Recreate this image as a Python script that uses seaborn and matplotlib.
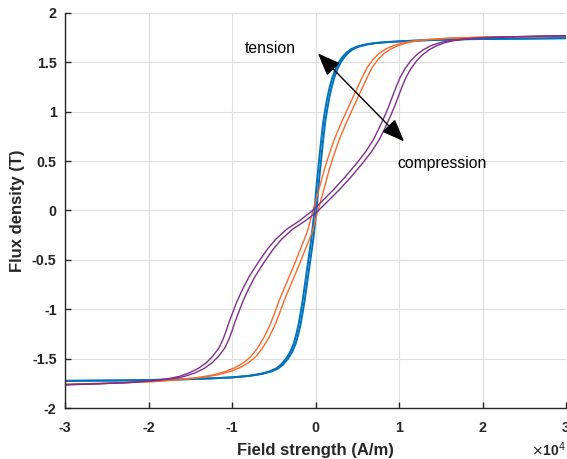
import numpy as np
import pandas as pd
import matplotlib
matplotlib.use("Agg")
import matplotlib.pyplot as plt
import seaborn as sns

# Each loop: flux density levels (T), loop centre line H (x 10^4 A/m) and half-width of the loop
blue_B = [-1.725, -1.72, -1.71, -1.70, -1.69, -1.675, -1.655, -1.63, -1.60, -1.56, -1.50, -1.43, -1.35, -1.26,
          -1.15, -1.03, -0.90, -0.75, -0.60, -0.45, -0.30, -0.15, 0.00, 0.15, 0.30, 0.45, 0.60, 0.75, 0.90,
          1.03, 1.15, 1.26, 1.35, 1.43, 1.50, 1.56, 1.60, 1.635, 1.66, 1.68, 1.695, 1.705, 1.715, 1.725,
          1.735, 1.745]
blue_H = [-3.0, -2.2, -1.6, -1.25, -1.0, -0.80, -0.65, -0.54, -0.46, -0.40, -0.34, -0.29, -0.25, -0.22,
          -0.19, -0.165, -0.14, -0.115, -0.09, -0.065, -0.04, -0.02, 0.0, 0.014, 0.03, 0.048, 0.066, 0.085, 0.105,
          0.13, 0.155, 0.185, 0.215, 0.25, 0.29, 0.34, 0.385, 0.44, 0.51, 0.60, 0.71, 0.85, 1.05, 1.35,
          1.8, 3.0]
blue_gap = [0, 0.002, 0.004, 0.006, 0.008, 0.010, 0.012, 0.012, 0.012, 0.012, 0.012, 0.012, 0.012, 0.012,
            0.012, 0.012, 0.012, 0.012, 0.012, 0.012, 0.012, 0.012, 0.012, 0.012, 0.012, 0.012, 0.012, 0.012, 0.012,
            0.012, 0.012, 0.012, 0.012, 0.012, 0.012, 0.012, 0.012, 0.012, 0.012, 0.012, 0.010, 0.008, 0.006, 0.004,
            0.002, 0]

orange_B = [-1.76, -1.745, -1.73, -1.71, -1.69, -1.665, -1.63, -1.59, -1.54, -1.48, -1.40, -1.29, -1.17, -1.04,
            -0.90, -0.73, -0.56, -0.39, -0.22, -0.11, 0.00, 0.12, 0.24, 0.40, 0.56, 0.72, 0.88, 1.02, 1.14,
            1.25, 1.35, 1.45, 1.53, 1.59, 1.635, 1.67, 1.695, 1.715, 1.73, 1.745, 1.755, 1.765]
orange_H = [-3.0, -2.3, -1.9, -1.60, -1.38, -1.20, -1.05, -0.93, -0.83, -0.745, -0.67, -0.59, -0.52, -0.46,
            -0.40, -0.315, -0.23, -0.15, -0.07, -0.035, 0.0, 0.04, 0.08, 0.13, 0.19, 0.255, 0.335, 0.41, 0.475,
            0.535, 0.59, 0.65, 0.72, 0.79, 0.87, 0.96, 1.06, 1.18, 1.33, 1.6, 2.0, 3.0]
orange_gap = [0, 0.005, 0.010, 0.015, 0.020, 0.025, 0.03, 0.03, 0.03, 0.03, 0.03, 0.03, 0.03, 0.03,
              0.03, 0.03, 0.03, 0.03, 0.03, 0.03, 0.03, 0.03, 0.03, 0.03, 0.03, 0.03, 0.03, 0.03, 0.03,
              0.03, 0.03, 0.03, 0.03, 0.03, 0.03, 0.03, 0.025, 0.020, 0.015, 0.010, 0.005, 0]

purple_B = [-1.765, -1.755, -1.74, -1.72, -1.70, -1.68, -1.645, -1.60, -1.54, -1.47, -1.39, -1.30, -1.22, -1.13,
            -1.03, -0.93, -0.80, -0.67, -0.53, -0.39, -0.29, -0.19, -0.10, 0.00, 0.10, 0.21, 0.34, 0.48,
            0.60, 0.72, 0.84, 0.95, 1.05, 1.15, 1.25, 1.35, 1.44, 1.52, 1.58, 1.63, 1.67, 1.70, 1.72,
            1.735, 1.75, 1.76, 1.77]
purple_H = [-3.0, -2.6, -2.2, -1.9, -1.72, -1.60, -1.48, -1.37, -1.27, -1.19, -1.12, -1.07, -1.035, -1.00,
            -0.955, -0.91, -0.84, -0.76, -0.655, -0.54, -0.44, -0.31, -0.15, 0.0, 0.12, 0.25, 0.39, 0.53,
            0.64, 0.73, 0.80, 0.86, 0.91, 0.955, 1.00, 1.05, 1.11, 1.18, 1.25, 1.33, 1.42, 1.52, 1.63,
            1.78, 2.0, 2.4, 3.0]
purple_gap = [0, 0.006, 0.012, 0.018, 0.024, 0.030, 0.035, 0.035, 0.035, 0.035, 0.035, 0.035, 0.035, 0.035,
              0.035, 0.035, 0.035, 0.035, 0.035, 0.035, 0.035, 0.035, 0.035, 0.035, 0.035, 0.035, 0.035, 0.035,
              0.035, 0.035, 0.035, 0.035, 0.035, 0.035, 0.035, 0.035, 0.035, 0.035, 0.035, 0.035, 0.035, 0.030, 0.024,
              0.018, 0.012, 0.006, 0]

x_ticks = [-3, -2, -1, 0, 1, 2, 3]
y_ticks = [-2, -1.5, -1, -0.5, 0, 0.5, 1, 1.5, 2]

loops = [
    ("blue", blue_B, blue_H, blue_gap, "#0072BD", 1.4),
    ("orange", orange_B, orange_H, orange_gap, "#F96A2B", 1.0),
    ("purple", purple_B, purple_H, purple_gap, "#7E2F8E", 1.0),
]

sns.set_theme(style="whitegrid")
plt.rcParams["font.family"] = ["Liberation Sans", "DejaVu Sans"]

fig = plt.figure(figsize=(5.67, 4.59), dpi=100)
ax = fig.add_axes([65 / 567, 1 - 408 / 459, 501 / 567, 395 / 459])

for name, B, H, gap, color, lw in loops:
    B = np.asarray(B)
    H = np.asarray(H)
    gap = np.asarray(gap)
    assert len(B) == len(H) == len(gap)
    # rising branch sits to the right of the loop centre, falling branch to the left
    for branch in (H + gap, H - gap):
        df = pd.DataFrame({"H": branch, "B": B})
        sns.lineplot(data=df, x="H", y="B", sort=False, estimator=None,
                     color=color, linewidth=lw, ax=ax)

ax.set_xlim(-3, 3)
ax.set_ylim(-2, 2)
ax.set_xticks(x_ticks)
ax.set_yticks(y_ticks)
ax.set_xticklabels([f"{t:g}" for t in x_ticks], fontweight="bold", fontsize=10.3)
ax.set_yticklabels([f"{t:g}" for t in y_ticks], fontweight="bold", fontsize=10.3)
ax.tick_params(axis="x", direction="in", length=4, width=1, color="#262626", labelcolor="#262626", pad=9)
ax.tick_params(axis="y", direction="in", length=4, width=1, color="#262626", labelcolor="#262626", pad=6)
ax.tick_params(left=True, bottom=True)
ax.set_xlabel("Field strength (A/m)", fontweight="bold", fontsize=12, color="#262626", labelpad=6)
ax.set_ylabel("Flux density (T)", fontweight="bold", fontsize=12, color="#262626", labelpad=5)

ax.set_facecolor("white")
ax.grid(True, color="#DFDFDF", linewidth=0.8)
for side in ("top", "right"):
    ax.spines[side].set_visible(False)
for side in ("left", "bottom"):
    ax.spines[side].set_color("#262626")
    ax.spines[side].set_linewidth(1.0)

ax.text(1.0, -0.105, r"$\times$10$^{4}$", transform=ax.transAxes, ha="right", va="center",
        fontsize=10, fontweight="bold", color="#262626")

# stress direction arrow
ax.annotate("", xy=(0.03, 1.59), xytext=(1.06, 0.70),
            arrowprops=dict(arrowstyle="<|-|>,head_length=1.0,head_width=0.4",
                            color="black", lw=1.0, shrinkA=0, shrinkB=0, mutation_scale=14))
ax.text(-0.85, 1.64, "tension", ha="left", va="center", fontsize=11.3, color="black")
ax.text(0.98, 0.48, "compression", ha="left", va="center", fontsize=11.3, color="black")

fig.savefig("out.png", dpi=100)
